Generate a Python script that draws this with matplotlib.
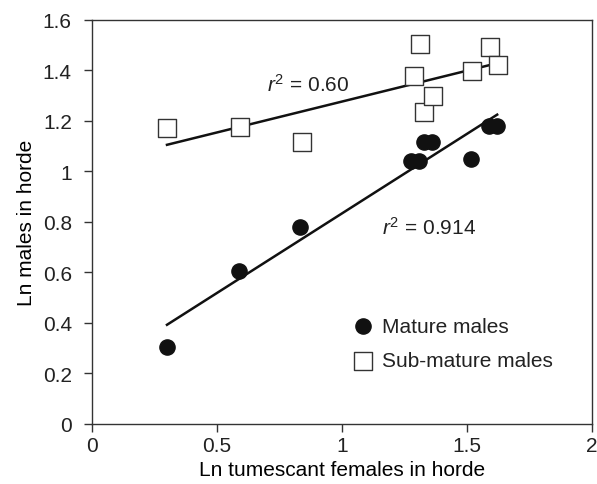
import numpy as np
import matplotlib
matplotlib.use("Agg")
import matplotlib.pyplot as plt

plt.rcParams['font.family'] = ['Liberation Sans', 'DejaVu Sans']
plt.rcParams['mathtext.fontset'] = 'custom'
plt.rcParams['mathtext.it'] = 'Liberation Sans:italic'
plt.rcParams['mathtext.rm'] = 'Liberation Sans'
plt.rcParams['text.color'] = '#222222'
plt.rcParams['xtick.color'] = '#222222'
plt.rcParams['ytick.color'] = '#222222'

# mature males (filled circles)
mature_x = [0.30, 0.588, 0.832, 1.276, 1.308, 1.328, 1.36, 1.516, 1.588, 1.62]
mature_y = [0.305, 0.606, 0.78, 1.042, 1.042, 1.117, 1.117, 1.05, 1.18, 1.18]

# sub-mature males (open squares)
sub_x = [0.30, 0.592, 0.84, 1.288, 1.312, 1.328, 1.364, 1.52, 1.592, 1.624]
sub_y = [1.172, 1.176, 1.117, 1.378, 1.505, 1.236, 1.299, 1.398, 1.493, 1.422]

x_ticks = [0, 0.5, 1, 1.5, 2]
x_tick_labels = ["0", "0.5", "1", "1.5", "2"]
y_ticks = [0, 0.2, 0.4, 0.6, 0.8, 1.0, 1.2, 1.4, 1.6]
y_tick_labels = ["0", "0.2", "0.4", "0.6", "0.8", "1", "1.2", "1.4", "1.6"]

FS = 15

fig = plt.figure(figsize=(5.97, 4.85), dpi=100)
ax = fig.add_axes([0.154, 0.124, 0.838, 0.833])

# fitted lines over the range of each series
for xs, ys in [(mature_x, mature_y), (sub_x, sub_y)]:
    k, b = np.polyfit(xs, ys, 1)
    xl = np.array([min(xs), max(xs)])
    ax.plot(xl, k * xl + b, color="#111111", lw=1.8, zorder=2)

ax.scatter(mature_x, mature_y, s=120, marker="o", color="#111111",
           label="Mature males", zorder=3)
ax.scatter(sub_x, sub_y, s=150, marker="s", facecolor="white",
           edgecolor="#333333", linewidth=1.0, label="Sub-mature males", zorder=3)

ax.text(0.70, 1.32, r"$r^{2}$ = 0.60", fontsize=FS, ha="left", va="baseline")
ax.text(1.16, 0.752, r"$r^{2}$ = 0.914", fontsize=FS, ha="left", va="baseline")

ax.set_xlim(0, 2)
ax.set_ylim(0, 1.6)
ax.set_xticks(x_ticks)
ax.set_xticklabels(x_tick_labels)
ax.set_yticks(y_ticks)
ax.set_yticklabels(y_tick_labels)
ax.tick_params(labelsize=FS, direction="out", length=6, width=1, color="#333333")
ax.tick_params(axis="x", pad=3)
ax.tick_params(axis="y", pad=8.5)
for sp in ax.spines.values():
    sp.set_color("#333333")
    sp.set_linewidth(1.0)

ax.set_xlabel("Ln tumescant females in horde", fontsize=FS, labelpad=3)
ax.set_ylabel("Ln males in horde", fontsize=FS, labelpad=5)

ax.legend(loc="upper left", bbox_to_anchor=(0.521, 0.265), frameon=False,
          fontsize=FS, handlelength=1.0, handletextpad=0.4, labelspacing=0.75,
          borderaxespad=0, borderpad=0)

fig.savefig("out.png", dpi=100)
